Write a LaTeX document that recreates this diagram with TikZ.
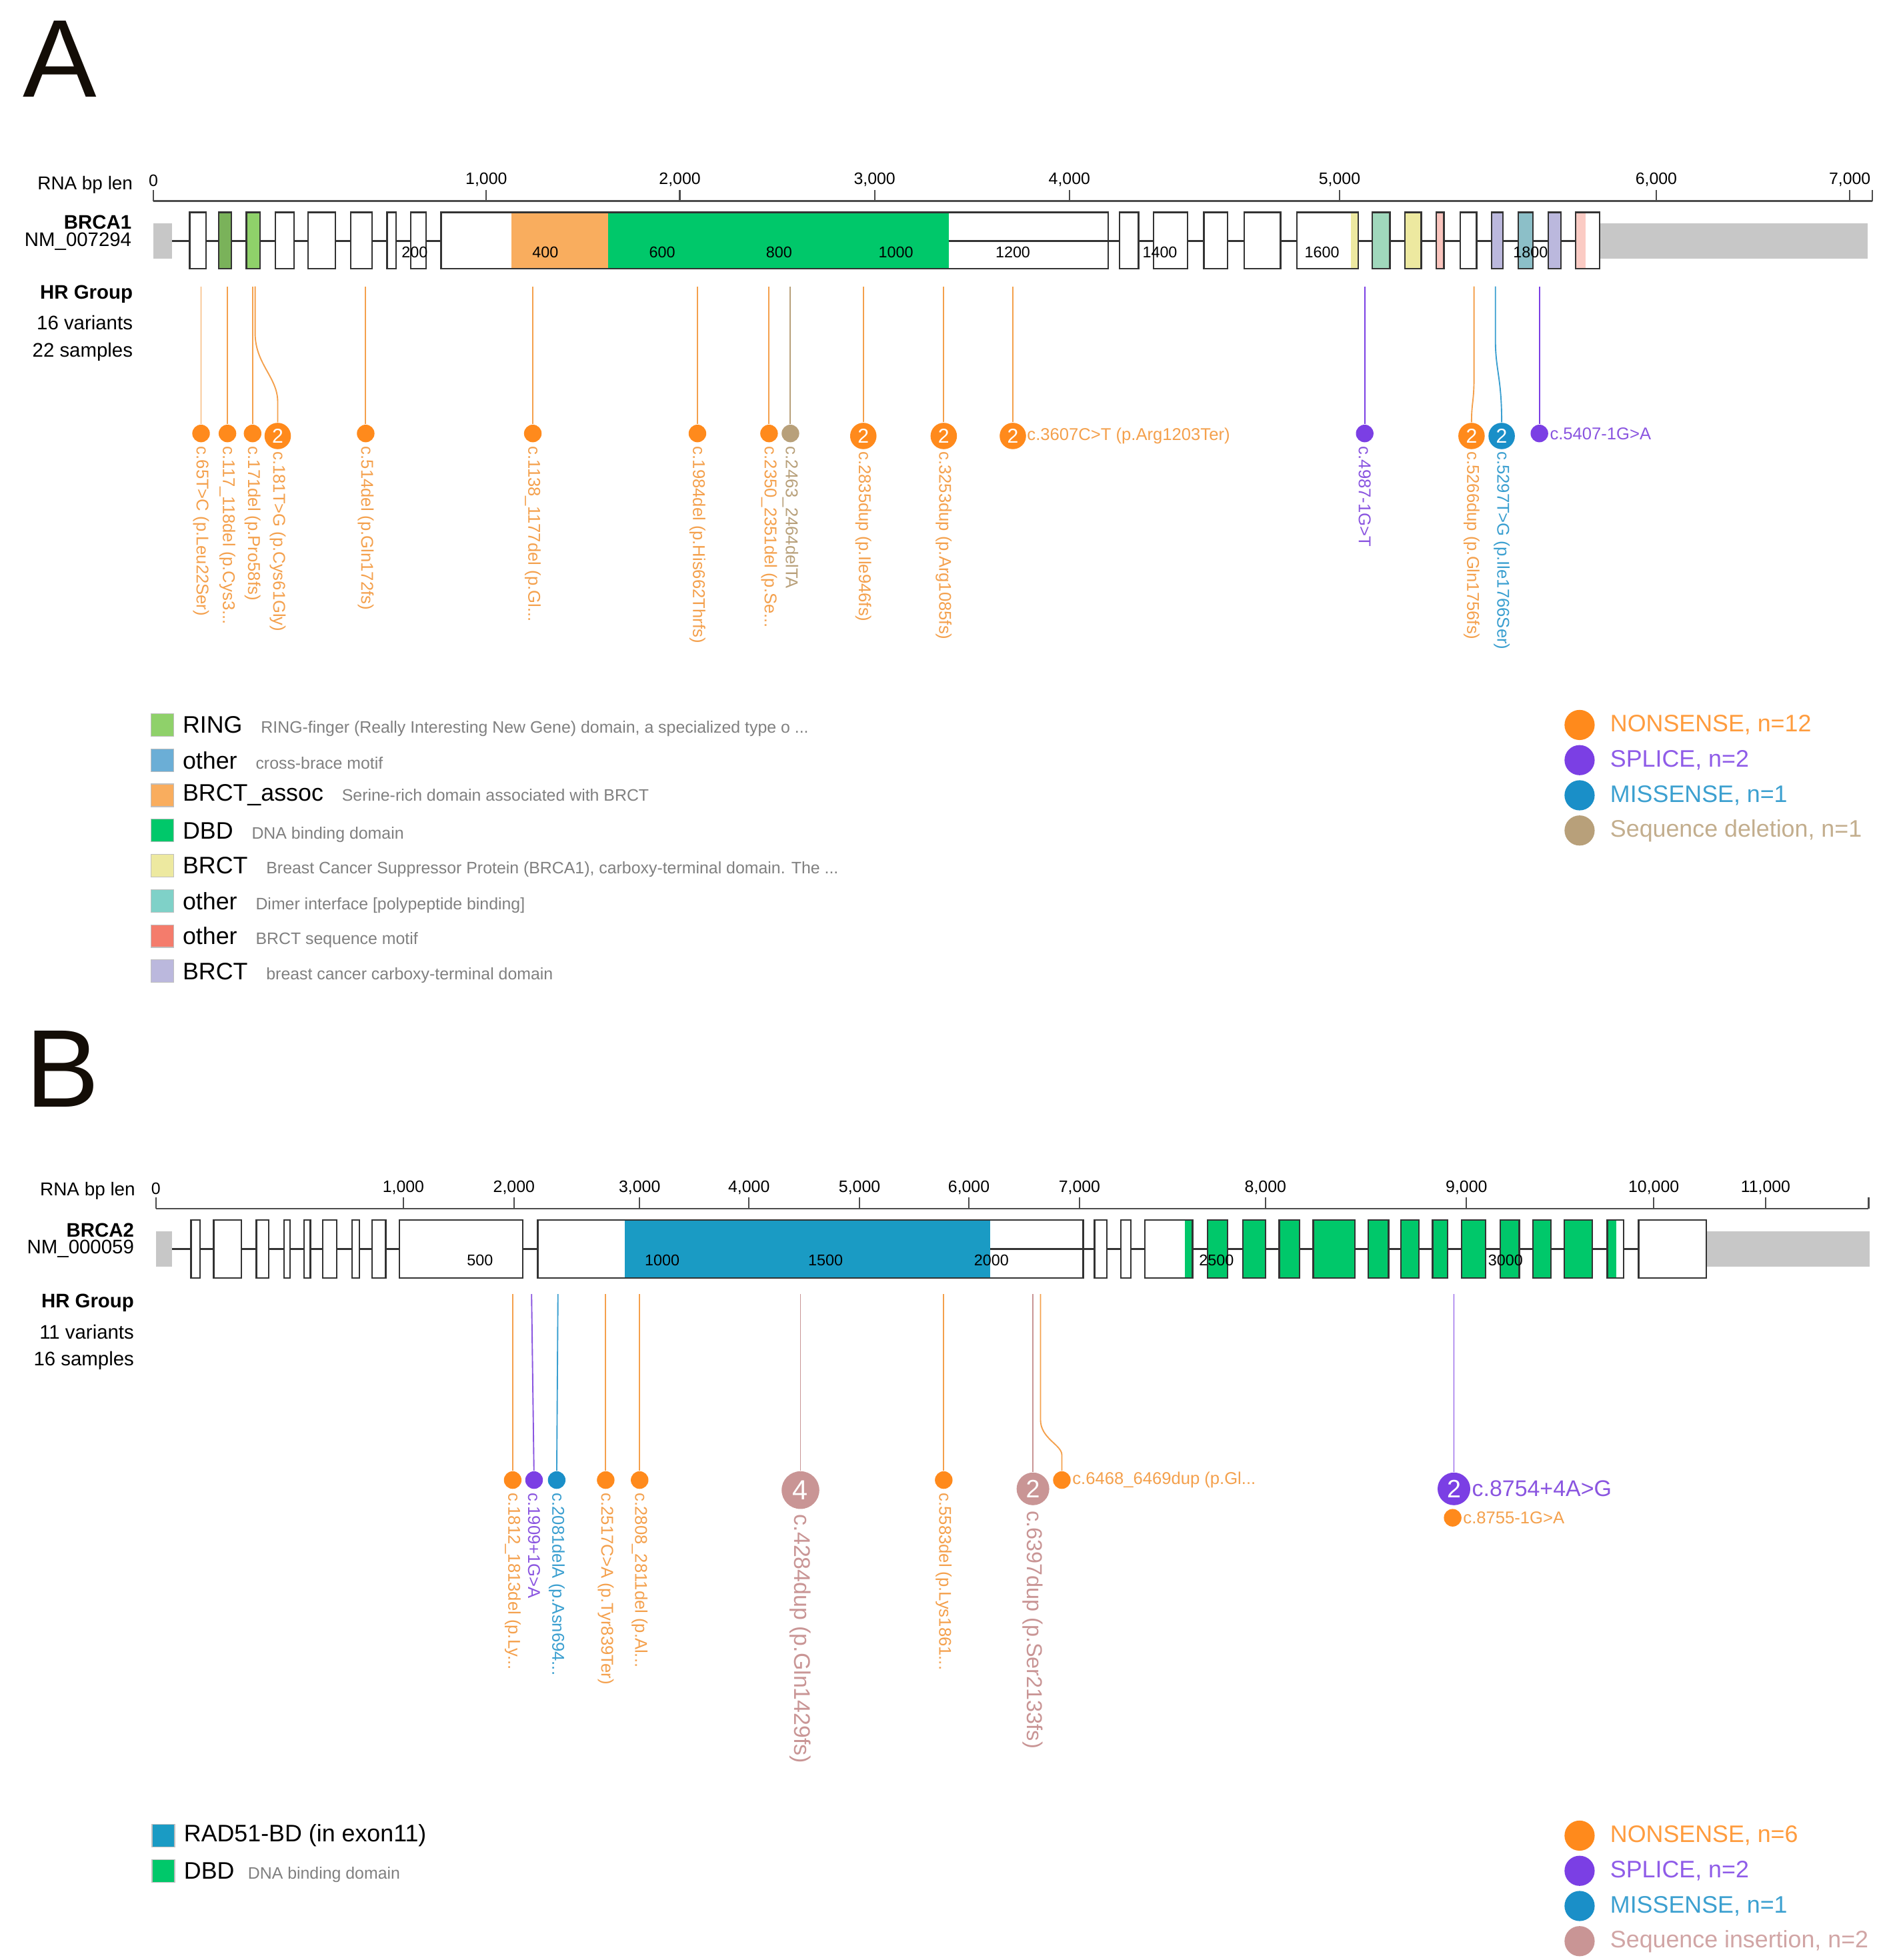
\documentclass[tikz,border=0pt]{standalone}
\usepackage{fontspec}
\setmainfont{Liberation Sans}
\begin{document}
\begin{tikzpicture}[x=0.5pt,y=-0.5pt,
  exon/.style={draw=black!80,line width=0.6pt},
  stem/.style={line width=0.5pt},
  sdot/.style={circle,inner sep=0pt,minimum size=7pt,draw=none},
  ndot/.style={circle,inner sep=0pt,minimum size=10.5pt,draw=none,text=white,font=\fontsize{8}{8}\selectfont},
  vlab/.style={rotate=-90,anchor=west,inner sep=0pt,font=\fontsize{6.8}{7}\selectfont},
  hlab/.style={anchor=west,inner sep=1pt,font=\fontsize{6.8}{7}\selectfont},
  tick/.style={anchor=south,inner sep=1pt,font=\fontsize{6.6}{7}\selectfont},
  tlab/.style={inner sep=0pt,font=\fontsize{6.2}{7}\selectfont},
  left/.style={anchor=east,inner sep=0pt,font=\fontsize{7.8}{8}\selectfont},
  lsq/.style={draw=black!25,line width=0.3pt,minimum size=9pt,inner sep=0pt},
  lname/.style={anchor=west,inner sep=0pt,font=\fontsize{9.5}{10}\selectfont},
  ldesc/.style={anchor=base west,inner sep=0pt,font=\fontsize{6.6}{7}\selectfont,text=black!50},
  lcirc/.style={circle,minimum size=12pt,inner sep=0pt},
  ltxt/.style={anchor=west,inner sep=0pt,font=\fontsize{9.5}{10}\selectfont},
  big/.style={font=\fontsize{44}{44}\selectfont,text=black!90!brown,inner sep=0pt}]
\definecolor{ORG}{HTML}{FF8A1C}
\definecolor{ORGT}{HTML}{F4A04C}
\definecolor{PUR}{HTML}{7B3FE4}
\definecolor{PURT}{HTML}{8A55E0}
\definecolor{BLU}{HTML}{1A8FC8}
\definecolor{BLUT}{HTML}{3A9FD0}
\definecolor{TAN}{HTML}{B8A07A}
\definecolor{PNK}{HTML}{C99595}
\definecolor{cRING}{HTML}{8FD16A}
\definecolor{cOTH}{HTML}{6BAED6}
\definecolor{cBA}{HTML}{F9AD5E}
\definecolor{cDBD}{HTML}{00C86A}
\definecolor{cBRCT}{HTML}{EDE9A0}
\definecolor{cDIM}{HTML}{7FD1C8}
\definecolor{cMOT}{HTML}{F47C6C}
\definecolor{cLAV}{HTML}{BBB8DD}
\definecolor{cRAD}{HTML}{1A9BC4}
\definecolor{cTEAL}{HTML}{8CBFC8}
\useasboundingbox (0,0) rectangle (1500,1560);
\fill[white] (0,0) rectangle (1500,1560);

%%%%%%%%%%%%%%%% PANEL A
\node[big,anchor=north west] (A) at (18,16) {A};
\node[left,font=\fontsize{7.4}{8}\selectfont] (rnaA) at (106,147) {RNA bp len};
\draw[line width=0.7pt,black!70] (122,160) -- (1490,160);
\foreach \x/\t in {122/0,387/{1,000},541/{2,000},696/{3,000},851/{4,000},1066/{5,000},1318/{6,000},1472/{7,000}}{
  \draw[line width=0.6pt,black!70] (\x,160) -- (\x,151);
  \node[tick] at (\x,151) {\t};}
\draw[line width=0.6pt,black!70] (1490,160) -- (1490,151);
\node[left,font=\bfseries\fontsize{7.8}{8}\selectfont] (g1) at (105,177) {BRCA1};
\node[left] (nm1) at (105,192) {NM\_007294};
\node[left,font=\bfseries\fontsize{7.8}{8}\selectfont] (hr1) at (106,234) {HR Group};
\node[left] (v1) at (106,257) {16 variants};
\node[left] (s1) at (106,280) {22 samples};
\fill[black!22] (122,178) rectangle (137,206);
\fill[black!22] (1273,178) rectangle (1486,206);
\draw[line width=0.8pt,black!80] (137,192) -- (1254,192);
\foreach \a/\b in {151/164,219/234,245/267,279/296,308/315,327/339,891/906,918/945,958/977,990/1019,1162/1175}{
  \draw[exon,fill=white] (\a,169) rectangle (\b,214);}
\draw[exon,fill=cRING!85!black] (174,169) rectangle (184,214);
\draw[exon,fill=cRING] (196,169) rectangle (207,214);
\fill[white] (351,169) rectangle (407,214);
\fill[cBA] (407,169) rectangle (484,214);
\fill[cDBD] (484,169) rectangle (755,214);
\draw[exon] (351,169) rectangle (882,214);
\fill[white] (1032,169) rectangle (1075,214);
\fill[cBRCT] (1075,169) rectangle (1081,214);
\draw[exon] (1032,169) rectangle (1081,214);
\draw[exon,fill=cDIM!70!cBRCT] (1092,169) rectangle (1106,214);
\draw[exon,fill=cBRCT] (1118,169) rectangle (1131,214);
\draw[exon,fill=cMOT!45] (1143,169) rectangle (1149,214);
\draw[exon,fill=cLAV] (1187,169) rectangle (1196,214);
\draw[exon,fill=cTEAL] (1208,169) rectangle (1220,214);
\draw[exon,fill=cLAV] (1232,169) rectangle (1242,214);
\fill[white] (1262,169) rectangle (1273,214);
\fill[cMOT!40] (1254,169) rectangle (1262,214);
\draw[exon] (1254,169) rectangle (1273,214);
\foreach \x/\t in {330/200,434/400,527/600,620/800,713/1000,806/1200,923/1400,1052/1600,1218/1800}{
  \node[tlab] at (\x,201) {\t};}

% lollipops A
\foreach \n/\x in {a1/160,a2/181,a3/201,a5/291,a6/424,a7/555,a8/612,a13/1086,a16/1225}{\coordinate (\n t) at (\x,228);}
\coordinate (a4t) at (203,228);
\coordinate (a9t) at (629,228);
\coordinate (a10t) at (687,228);
\coordinate (a11t) at (751,228);
\coordinate (a12t) at (806,228);
\coordinate (a14t) at (1173,228);
\coordinate (a15t) at (1190,228);
\node[sdot,fill=ORG] (a1) at (160,345) {};
\node[sdot,fill=ORG] (a2) at (181,345) {};
\node[sdot,fill=ORG] (a3) at (201,345) {};
\node[ndot,fill=ORG] (a4) at (221,347) {2};
\node[sdot,fill=ORG] (a5) at (291,345) {};
\node[sdot,fill=ORG] (a6) at (424,345) {};
\node[sdot,fill=ORG] (a7) at (555,345) {};
\node[sdot,fill=ORG] (a8) at (612,345) {};
\node[sdot,fill=TAN] (a9) at (629,345) {};
\node[ndot,fill=ORG] (a10) at (687,347) {2};
\node[ndot,fill=ORG] (a11) at (751,347) {2};
\node[ndot,fill=ORG] (a12) at (806,347) {2};
\node[sdot,fill=PUR] (a13) at (1086,345) {};
\node[ndot,fill=ORG] (a14) at (1171,347) {2};
\node[ndot,fill=BLU] (a15) at (1195,347) {2};
\node[sdot,fill=PUR] (a16) at (1225,345) {};
\foreach \n in {a1,a2,a3,a5,a6,a7,a8,a10,a11,a12}{\draw[stem,ORGT] (\n t) -- (\n);}
\draw[stem,TAN] (a9t) -- (a9);
\draw[stem,PUR] (a13t) -- (a13);
\draw[stem,PUR] (a16t) -- (a16);
\draw[stem,ORGT] (a4t) -- (203,265) .. controls (203,290) and (221,300) .. (221,320) -- (a4);
\draw[stem,ORGT] (a14t) -- (1173,300) .. controls (1173,320) and (1171,320) .. (a14);
\draw[stem,BLUT] (a15t) -- (1190,270) .. controls (1190,295) and (1195,300) .. (a15);
\node[vlab,text=ORGT] (l1) at (160,355) {c.65T>C (p.Leu22Ser)};
\node[vlab,text=ORGT] (l2) at (181,355) {c.117\_118del (p.Cys3...};
\node[vlab,text=ORGT] (l3) at (201,355) {c.171del (p.Pro58fs)};
\node[vlab,text=ORGT] (l4) at (221,359) {c.181T>G (p.Cys61Gly)};
\node[vlab,text=ORGT] (l5) at (291,355) {c.514del (p.Gln172fs)};
\node[vlab,text=ORGT] (l6) at (424,355) {c.1138\_1177del (p.Gl...};
\node[vlab,text=ORGT] (l7) at (555,355) {c.1984del (p.His662Thrfs)};
\node[vlab,text=ORGT] (l8) at (612,355) {c.2350\_2351del (p.Se...};
\node[vlab,text=TAN] (l9) at (629,355) {c.2463\_2464delTA};
\node[vlab,text=ORGT] (l10) at (687,359) {c.2835dup (p.Ile946fs)};
\node[vlab,text=ORGT] (l11) at (751,359) {c.3253dup (p.Arg1085fs)};
\node[hlab,text=ORGT] (l12) at (815,347) {c.3607C>T (p.Arg1203Ter)};
\node[vlab,text=PURT] (l13) at (1086,355) {c.4987-1G>T};
\node[vlab,text=ORGT] (l14) at (1171,359) {c.5266dup (p.Gln1756fs)};
\node[vlab,text=BLUT] (l15) at (1195,359) {c.5297T>G (p.Ile1766Ser)};
\node[hlab,text=PURT] (l16) at (1231,345) {c.5407-1G>A};

% legend A
\foreach \i/\c/\nm/\d in {1/cRING/RING/{RING-finger (Really Interesting New Gene) domain, a specialized type o ...},
  2/cOTH/other/{cross-brace motif},
  3/cBA/BRCT\_assoc/{Serine-rich domain associated with BRCT},
  4/cDBD/DBD/{DNA binding domain},
  5/cBRCT/BRCT/{Breast Cancer Suppressor Protein (BRCA1), carboxy-terminal domain. The ...},
  6/cDIM/other/{Dimer interface [polypeptide binding]},
  7/cMOT/other/{BRCT sequence motif},
  8/cLAV/BRCT/{breast cancer carboxy-terminal domain}}{
  \node[lsq,fill=\c] (sq\i) at (129,549+28*\i) {};
  \node[lname] (nmA\i) at (145,549+28*\i) {\nm};
  \node[ldesc] (dA\i) at ([xshift=7pt]nmA\i.base east) {\d};}
\foreach \i/\c/\t in {1/ORG/{NONSENSE, n=12},2/PUR/{SPLICE, n=2},3/BLU/{MISSENSE, n=1},4/TAN/{Sequence deletion, n=1}}{
  \node[lcirc,fill=\c] (cA\i) at (1257,549+28*\i) {};
  \node[ltxt,text=\c!85!white] (tA\i) at (1281,549+28*\i) {\t};}

%%%%%%%%%%%%%%%% PANEL B
\node[big,anchor=north west] (B) at (20,820) {B};
\node[left,font=\fontsize{7.4}{8}\selectfont] (rnaB) at (108,948) {RNA bp len};
\draw[line width=0.7pt,black!70] (124,962) -- (1487,962);
\foreach \x/\t in {124/0,321/{1,000},409/{2,000},509/{3,000},596/{4,000},684/{5,000},771/{6,000},859/{7,000},1007/{8,000},1167/{9,000},1316/{10,000},1405/{11,000}}{
  \draw[line width=0.6pt,black!70] (\x,962) -- (\x,953);
  \node[tick] at (\x,953) {\t};}
\draw[line width=0.6pt,black!70] (1487,962) -- (1487,953);
\node[left,font=\bfseries\fontsize{7.8}{8}\selectfont] (g2) at (107,979) {BRCA2};
\node[left] (nm2) at (107,994) {NM\_000059};
\node[left,font=\bfseries\fontsize{7.8}{8}\selectfont] (hr2) at (107,1037) {HR Group};
\node[left] (v2) at (107,1060) {11 variants};
\node[left] (s2) at (107,1083) {16 samples};
\fill[black!22] (124,980) rectangle (137,1008);
\fill[black!22] (1358,980) rectangle (1488,1008);
\draw[line width=0.8pt,black!80] (137,994) -- (1304,994);
\foreach \a/\b in {152/159,170/192,204/214,226/231,242/247,257/268,280/286,296/307,318/416,871/881,892/900,1304/1358}{
  \draw[exon,fill=white] (\a,971) rectangle (\b,1017);}
\fill[white] (428,971) rectangle (497,1017);
\fill[cRAD] (497,971) rectangle (788,1017);
\draw[exon] (428,971) rectangle (862,1017);
\fill[white] (911,971) rectangle (943,1017);
\fill[cDBD] (943,971) rectangle (949,1017);
\draw[exon] (911,971) rectangle (949,1017);
\foreach \a/\b in {961/977,989/1007,1018/1034,1045/1078,1089/1105,1115/1129,1140/1152,1163/1182,1194/1209,1220/1234,1245/1267}{
  \draw[exon,fill=cDBD] (\a,971) rectangle (\b,1017);}
\fill[white] (1286,971) rectangle (1292,1017);
\fill[cDBD] (1279,971) rectangle (1286,1017);
\draw[exon] (1279,971) rectangle (1292,1017);
\foreach \x/\t in {382/500,527/1000,657/1500,789/2000,968/2500,1198/3000}{
  \node[tlab] at (\x,1003) {\t};}

% lollipops B
\foreach \n/\x in {b1/408,b2/423,b3/444,b4/482,b5/509,b6/637,b7/751,b8/822,b9/828,b10/1157}{\coordinate (\n t) at (\x,1030);}
\node[sdot,fill=ORG] (b1) at (408,1178) {};
\node[sdot,fill=PUR] (b2) at (425,1178) {};
\node[sdot,fill=BLU] (b3) at (443,1178) {};
\node[sdot,fill=ORG] (b4) at (482,1178) {};
\node[sdot,fill=ORG] (b5) at (509,1178) {};
\node[ndot,fill=PNK,minimum size=15pt,font=\fontsize{11}{11}\selectfont] (b6) at (637,1186) {4};
\node[sdot,fill=ORG] (b7) at (751,1178) {};
\node[ndot,fill=PNK,minimum size=13pt,font=\fontsize{10}{10}\selectfont] (b8) at (822,1185) {2};
\node[sdot,fill=ORG] (b9) at (845,1178) {};
\node[ndot,fill=PUR,minimum size=13pt,font=\fontsize{10}{10}\selectfont] (b10) at (1157,1185) {2};
\node[sdot,fill=ORG] (b11) at (1156,1208) {};
\draw[stem,ORGT] (b1t) -- (b1);
\draw[stem,PURT] (b2t) -- (b2);
\draw[stem,BLUT] (b3t) -- (b3);
\draw[stem,ORGT] (b4t) -- (b4);
\draw[stem,ORGT] (b5t) -- (b5);
\draw[stem,PNK] (b6t) -- (b6);
\draw[stem,ORGT] (b7t) -- (b7);
\draw[stem,PNK] (b8t) -- (b8);
\draw[stem,PUR] (b10t) -- (b10);
\draw[stem,ORGT] (b9t) -- (828,1130) .. controls (828,1145) and (845,1150) .. (845,1158) -- (b9);
\node[vlab,text=ORGT] (m1) at (408,1188) {c.1812\_1813del (p.Ly...};
\node[vlab,text=PURT] (m2) at (425,1188) {c.1909+1G>A};
\node[vlab,text=BLUT] (m3) at (443,1188) {c.2081delA (p.Asn694...};
\node[vlab,text=ORGT] (m4) at (482,1188) {c.2517C>A (p.Tyr839Ter)};
\node[vlab,text=ORGT] (m5) at (509,1188) {c.2808\_2811del (p.Al...};
\node[vlab,text=PNK,font=\fontsize{9}{9}\selectfont] (m6) at (637,1205) {c.4284dup (p.Gln1429fs)};
\node[vlab,text=ORGT] (m7) at (751,1188) {c.5583del (p.Lys1861...};
\node[vlab,text=PNK,font=\fontsize{8.6}{9}\selectfont] (m8) at (822,1202) {c.6397dup (p.Ser2133fs)};
\node[hlab,text=ORGT] (m9) at (851,1178) {c.6468\_6469dup (p.Gl...};
\node[hlab,text=PURT,font=\fontsize{9}{9}\selectfont] (m10) at (1169,1185) {c.8754+4A>G};
\node[hlab,text=ORGT] (m11) at (1162,1208) {c.8755-1G>A};

% legend B
\node[lsq,fill=cRAD] (sqB1) at (130,1461) {};
\node[lname] (nB1) at (146,1461) {RAD51-BD (in exon11)};
\node[lsq,fill=cDBD] (sqB2) at (130,1489) {};
\node[lname] (nB2) at (146,1489) {DBD};
\node[ldesc] (dB2) at ([xshift=5pt]nB2.base east) {DNA binding domain};
\foreach \i/\c/\t in {1/ORG/{NONSENSE, n=6},2/PUR/{SPLICE, n=2},3/BLU/{MISSENSE, n=1},4/PNK/{Sequence insertion, n=2}}{
  \node[lcirc,fill=\c] (cB\i) at (1257,1433+28*\i) {};
  \node[ltxt,text=\c!85!white] (tB\i) at (1281,1433+28*\i) {\t};}
\end{tikzpicture}
\end{document}
